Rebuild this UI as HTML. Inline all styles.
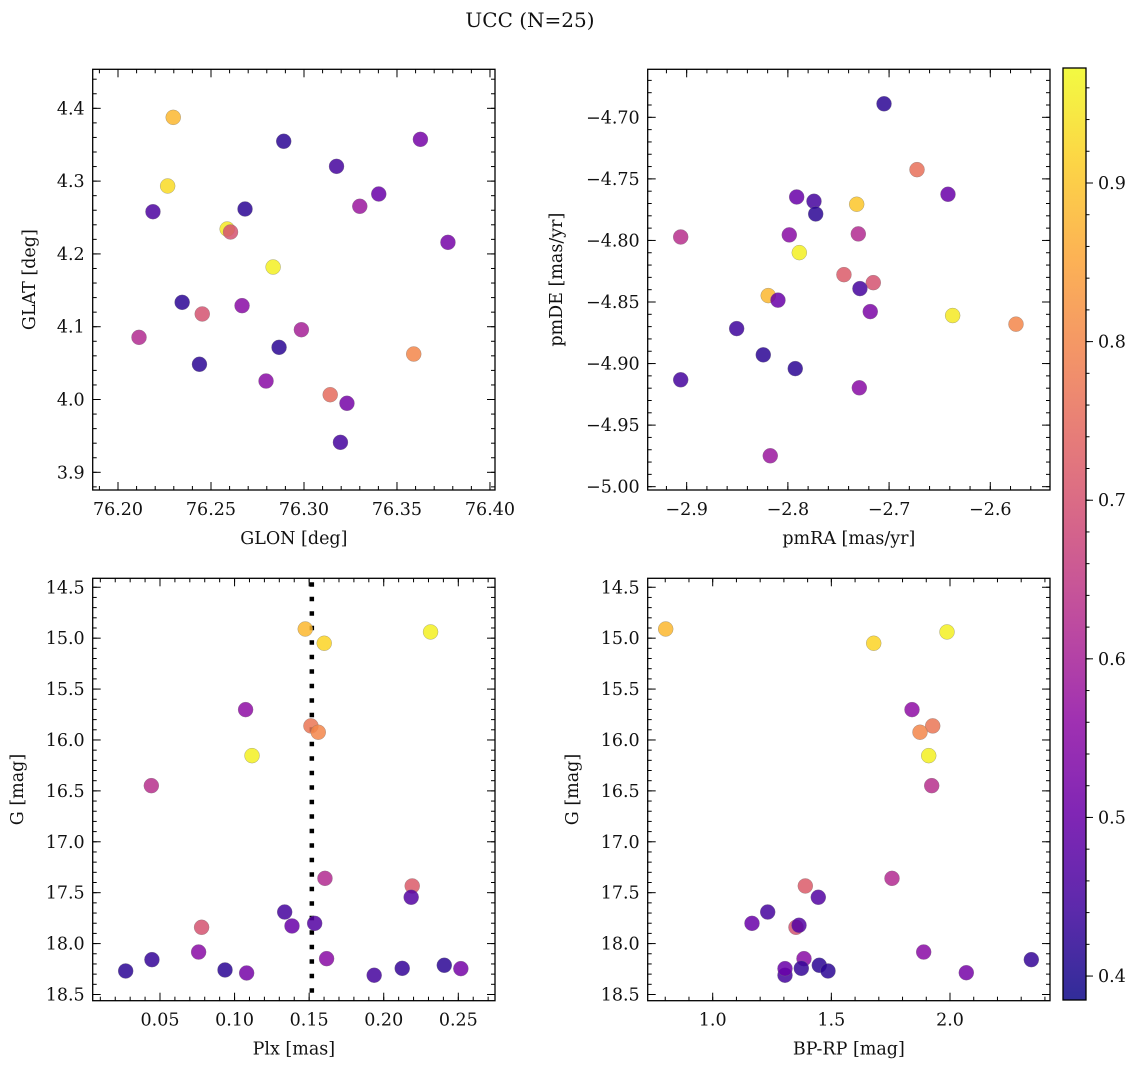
<!DOCTYPE html>
<html><head><meta charset="utf-8">
<style>
html,body{margin:0;padding:0;background:#fff;}
svg{display:block;font-family:"DejaVu Serif","Liberation Serif",serif;}
</style></head>
<body>
<svg id="fig" width="1136" height="1068" viewBox="0 0 1136 1068" xmlns="http://www.w3.org/2000/svg">
<text x="530" y="27" font-size="20" text-anchor="middle" fill="#111">UCC (N=25)</text>
</svg>
<script>
// ---- Panel 1: GLON vs GLAT ----
const p1X = [76.2297,76.2891,76.3626,76.3175,76.3402,76.2267,76.2188,76.2683,76.3300,76.2587,76.2605,76.3774,76.2834,76.2345,76.2453,76.2667,76.2113,76.2986,76.2866,76.2438,76.3590,76.2796,76.3141,76.3231,76.3196];
const p1Y = [4.3876,4.3547,4.3574,4.3203,4.2823,4.2933,4.2580,4.2617,4.2654,4.2342,4.2301,4.2159,4.1820,4.1335,4.1175,4.1289,4.0854,4.0959,4.0717,4.0484,4.0625,4.0254,4.0066,3.9948,3.9412];
const p1C = [0.88,0.42,0.52,0.45,0.50,0.93,0.46,0.42,0.58,0.95,0.70,0.52,0.96,0.42,0.70,0.55,0.62,0.60,0.42,0.42,0.80,0.55,0.75,0.52,0.45];
const p1XTicks = ["76.20","76.25","76.30","76.35","76.40"];
const p1YTicks = ["3.9","4.0","4.1","4.2","4.3","4.4"];
// ---- Panel 2: pmRA vs pmDE ----
const p2X = [-2.7050,-2.6724,-2.6418,-2.7913,-2.7742,-2.7725,-2.7320,-2.9059,-2.7986,-2.7304,-2.7887,-2.7446,-2.7156,-2.7288,-2.8194,-2.8098,-2.7186,-2.6372,-2.5746,-2.8506,-2.8243,-2.7927,-2.9059,-2.7294,-2.8174];
const p2Y = [-4.6890,-4.7425,-4.7625,-4.7647,-4.7682,-4.7785,-4.7706,-4.7972,-4.7955,-4.7947,-4.8099,-4.8278,-4.8343,-4.8391,-4.8448,-4.8485,-4.8578,-4.8610,-4.8680,-4.8716,-4.8929,-4.9041,-4.9132,-4.9197,-4.9749];
const p2C = [0.42,0.76,0.50,0.50,0.45,0.42,0.90,0.63,0.55,0.62,0.96,0.72,0.70,0.45,0.88,0.50,0.53,0.95,0.80,0.44,0.42,0.42,0.45,0.55,0.58];
const p2XTicks = ["−2.9","−2.8","−2.7","−2.6"];
const p2YTicks = ["−5.00","−4.95","−4.90","−4.85","−4.80","−4.75","−4.70"];
// ---- Panel 3: Plx vs G ----
const p3X = [0.1474,0.1601,0.2314,0.1074,0.1512,0.1561,0.1117,0.0442,0.1606,0.2191,0.2184,0.1336,0.0779,0.1385,0.1537,0.0759,0.1617,0.0446,0.0270,0.0936,0.1081,0.1936,0.2124,0.2406,0.2517];
const p3Y = [14.910,15.050,14.939,15.702,15.862,15.924,16.154,16.449,17.359,17.434,17.545,17.690,17.840,17.827,17.801,18.083,18.148,18.158,18.269,18.259,18.289,18.311,18.243,18.213,18.246];
const p3C = [0.88,0.92,0.96,0.56,0.77,0.80,0.96,0.63,0.62,0.72,0.47,0.45,0.70,0.50,0.47,0.55,0.55,0.43,0.42,0.42,0.52,0.45,0.43,0.42,0.52];
const p3XTicks = ["0.05","0.10","0.15","0.20","0.25"];
const plxLine = [0.1518];
// ---- Panel 4: BP-RP vs G ----
const p4X = [0.8019,1.6785,1.9874,1.8399,1.9271,1.8736,1.9103,1.9229,1.7556,1.3903,1.4450,1.2318,1.3510,1.1656,1.3637,1.8891,1.3847,2.3427,1.3047,1.3047,1.3734,1.4492,1.4859,2.0687];
const p4Y = [14.910,15.050,14.939,15.702,15.862,15.924,16.154,16.449,17.359,17.434,17.545,17.690,17.840,17.801,17.820,18.083,18.148,18.158,18.311,18.246,18.243,18.213,18.269,18.286];
const p4C = [0.88,0.92,0.96,0.56,0.77,0.80,0.96,0.63,0.62,0.72,0.47,0.45,0.70,0.50,0.47,0.55,0.55,0.43,0.45,0.50,0.43,0.42,0.42,0.52];
const p4XTicks = ["1.0","1.5","2.0"];
const gTicks = ["14.5","15.0","15.5","16.0","16.5","17.0","17.5","18.0","18.5"];
const cbTicks = ["0.4","0.5","0.6","0.7","0.8","0.9"];

const NS = "http://www.w3.org/2000/svg";
const svg = document.getElementById('fig');
function mk(tag, attrs, parent){ const e=document.createElementNS(NS,tag); for(const k in attrs) e.setAttribute(k,attrs[k]); (parent||svg).appendChild(e); return e; }

const plasma = [[13,8,135],[65,4,157],[106,0,168],[143,13,164],[177,42,144],[204,71,120],[225,100,98],[242,132,75],[252,166,54],[252,206,37],[240,249,33]];
function cmap(t){ t=Math.max(0,Math.min(1,t)); const s=t*10, i=Math.min(9,Math.floor(s)), f=s-i; const a=plasma[i], b=plasma[i+1]; return 'rgb('+a.map((v,k)=>Math.round(v+(b[k]-v)*f)).join(',')+')'; }
const CMIN=0.3849, CMAX=0.9725;
const cnorm = v => (v-CMIN)/(CMAX-CMIN);
const FS = 17.5;

function panel(cfg){
  const g = mk('g',{});
  
  
  const {L,R,T,B,xmin,xmax,ymin,ymax,inv} = cfg;
  const sx = v => L + (v-xmin)/(xmax-xmin)*(R-L);
  const sy = v => inv ? T + (v-ymin)/(ymax-ymin)*(B-T) : B - (v-ymin)/(ymax-ymin)*(B-T);
  const tg = mk('g',{stroke:'#000','stroke-width':1},g);
  const eps=1e-9;
  function xt(v,len){ const x=sx(v); if(x<L-0.5||x>R+0.5) return; mk('line',{x1:x,x2:x,y1:B,y2:B-len},tg); mk('line',{x1:x,x2:x,y1:T,y2:T+len},tg); }
  function yt(v,len){ const y=sy(v); if(y<T-0.5||y>B+0.5) return; mk('line',{x1:L,x2:L+len,y1:y,y2:y},tg); mk('line',{x1:R,x2:R-len,y1:y,y2:y},tg); }
  for(let v=Math.ceil(xmin/cfg.xminor-eps)*cfg.xminor; v<=xmax+eps; v+=cfg.xminor) xt(v,4);
  for(let v=Math.ceil(ymin/cfg.yminor-eps)*cfg.yminor; v<=ymax+eps; v+=cfg.yminor) yt(v,4);
  cfg.xTicks.forEach(s=>{ const v=parseFloat(s.replace('−','-')); xt(v,8);
    const t=mk('text',{x:sx(v),y:B+25,'font-size':FS,'text-anchor':'middle',fill:'#111'},g); t.textContent=s;
      });
  cfg.yTicks.forEach(s=>{ const v=parseFloat(s.replace('−','-')); yt(v,8);
    const t=mk('text',{x:L-8,y:sy(v)+6,'font-size':FS,'text-anchor':'end',fill:'#111'},g); t.textContent=s;
      });
  if(cfg.vline){ cfg.vline.forEach(v=>{ const l=mk('line',{x1:sx(v),x2:sx(v),y1:T+4,y2:B,stroke:'#000','stroke-width':4.5,'stroke-dasharray':'4.5 10'},g);
      }); }
  const pg = mk('g',{},g);
  cfg.x.forEach((xv,i)=>{
    const c = mk('circle',{cx:sx(xv),cy:sy(cfg.y[i]),r:7.5,fill:cmap(cnorm(cfg.c[i])),'fill-opacity':0.85,stroke:'#777','stroke-opacity':0.6,'stroke-width':0.5},pg);
    
    
  });
  const fr = mk('rect',{x:L,y:T,width:R-L,height:B-T,fill:'none',stroke:'#000','stroke-width':1.3},g);
   
  const xl = mk('text',{x:(L+R)/2,y:B+54,'font-size':FS,'text-anchor':'middle',fill:'#111'},g); xl.textContent=cfg.xlabel;
   
  const yx = cfg.ylx, yy=(T+B)/2;
  const yl = mk('text',{x:yx,y:yy,'font-size':FS,'text-anchor':'middle',fill:'#111',transform:`rotate(-90 ${yx} ${yy})`},g); yl.textContent=cfg.ylabel;
   
}

panel({name:'glon-glat-panel',L:92.7,R:495,T:69.3,B:490,xmin:76.1864,xmax:76.4027,ymin:3.8757,ymax:4.4536,xminor:0.01,yminor:0.02,
  x:p1X,y:p1Y,c:p1C,xTicks:p1XTicks,yTicks:p1YTicks,xlabel:'GLON [deg]',ylabel:'GLAT [deg]',ylx:35});
panel({name:'pmra-pmde-panel',L:647.7,R:1050,T:69.3,B:490,xmin:-2.9385,xmax:-2.5410,ymin:-5.0027,ymax:-4.6610,xminor:0.02,yminor:0.01,
  x:p2X,y:p2Y,c:p2C,xTicks:p2XTicks,yTicks:p2YTicks,xlabel:'pmRA [mas/yr]',ylabel:'pmDE [mas/yr]',ylx:562});
panel({name:'plx-g-panel',L:92.7,R:495,T:578.3,B:1000.7,xmin:0.00489,xmax:0.2746,ymin:14.412,ymax:18.561,inv:true,xminor:0.01,yminor:0.1,
  x:p3X,y:p3Y,c:p3C,xTicks:p3XTicks,yTicks:gTicks,xlabel:'Plx [mas]',ylabel:'G [mag]',ylx:23,vline:plxLine});
panel({name:'bprp-g-panel',L:647.7,R:1050,T:578.3,B:1000.7,xmin:0.7261,xmax:2.4214,ymin:14.412,ymax:18.561,inv:true,xminor:0.1,yminor:0.1,
  x:p4X,y:p4Y,c:p4C,xTicks:p4XTicks,yTicks:gTicks,xlabel:'BP-RP [mag]',ylabel:'G [mag]',ylx:578});

const cbL=1063, cbR=1086, cbT=68, cbB=1000;
const cbg = mk('g',{});


const defs = mk('defs',{},cbg);
const grad = mk('linearGradient',{id:'plasmaGrad',x1:0,y1:1,x2:0,y2:0},defs);
for(let k=0;k<=20;k++){ mk('stop',{offset:k/20,'stop-color':cmap(CMIN+(CMAX-CMIN)*k/20 - CMIN < 0 ? 0 : k/20)},grad); }
const cbr = mk('rect',{x:cbL,y:cbT,width:cbR-cbL,height:cbB-cbT,fill:'url(#plasmaGrad)','fill-opacity':0.85},cbg);
 
const cy = v => cbB - (v-CMIN)/(CMAX-CMIN)*(cbB-cbT);
for(let v=0.40; v<=0.97; v+=0.02){ const y=cy(v); mk('line',{x1:cbR,x2:cbR+3.5,y1:y,y2:y,stroke:'#000','stroke-width':1},cbg); }
cbTicks.forEach(s=>{ const v=parseFloat(s), y=cy(v);
  mk('line',{x1:cbR,x2:cbR+7,y1:y,y2:y,stroke:'#000','stroke-width':1},cbg);
  const t=mk('text',{x:cbR+12,y:y+6,'font-size':FS,fill:'#111'},cbg); t.textContent=s;
    });
mk('rect',{x:cbL,y:cbT,width:cbR-cbL,height:cbB-cbT,fill:'none',stroke:'#000','stroke-width':1.3},cbg);
</script>
</body></html>
